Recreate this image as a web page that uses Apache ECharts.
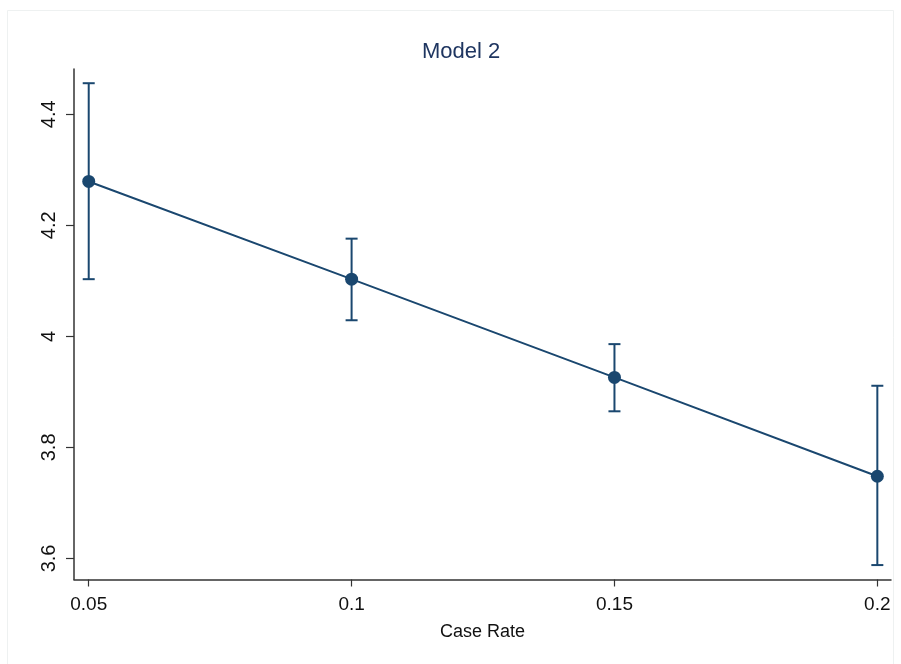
<!DOCTYPE html>
<html><head><meta charset="utf-8">
<script src="https://cdn.jsdelivr.net/npm/echarts@6/dist/echarts.min.js"></script>
<style>html,body{margin:0;padding:0;background:#fff}#c{width:901px;height:664px}</style>
</head><body><div id="c"></div>
<script>
const caseRate = [0.05, 0.1, 0.15, 0.2];
const estimate = [4.279, 4.103, 3.926, 3.748];
const upperCI = [4.456, 4.176, 3.986, 3.911];
const lowerCI = [4.103, 4.029, 3.865, 3.588];
const xTicks = [0.05, 0.1, 0.15, 0.2];
const yTicks = [3.6, 3.8, 4, 4.2, 4.4];
const titleText = 'Model 2';
const xTitle = 'Case Rate';

const navy = '#1a476f';
const font = 'Liberation Sans, Arial, Helvetica, sans-serif';
const chart = echarts.init(document.getElementById('c'), null, {renderer: 'canvas'});
const lineData = caseRate.map((x, i) => [x, estimate[i]]);
const errData = caseRate.map((x, i) => [x, lowerCI[i], upperCI[i]]);
const fmt = v => String(+v.toFixed(2));
chart.setOption({
  animation: false,
  backgroundColor: '#fff',
  graphic: [{type: 'rect', shape: {x: 7.5, y: 10.5, width: 886, height: 700}, style: {fill: 'none', stroke: '#eef1f1', lineWidth: 1}, silent: true}],
  title: {text: titleText, left: 417, top: 36,
    textStyle: {color: '#1e3560', fontSize: 22, fontWeight: 'normal', fontFamily: font}},
  grid: {left: 74, top: 69, width: 817, height: 510.5},
  xAxis: {
    type: 'value', min: 0.0472, max: 0.2026,
    name: xTitle, nameLocation: 'middle', nameGap: 44,
    nameTextStyle: {color: '#111', fontSize: 18, fontFamily: font},
    axisLine: {show: true, onZero: false, lineStyle: {color: '#333', width: 1.5}},
    axisTick: {show: true, length: 7, customValues: xTicks, lineStyle: {color: '#333', width: 1.2}},
    axisLabel: {customValues: xTicks, formatter: fmt, margin: 16, color: '#111', fontSize: 19, fontFamily: font},
    splitLine: {show: false}
  },
  yAxis: {
    type: 'value', min: 3.562, max: 4.4816,
    axisLine: {show: true, onZero: false, lineStyle: {color: '#333', width: 1.5}},
    axisTick: {show: true, length: 8, customValues: yTicks, lineStyle: {color: '#333', width: 1.2}},
    axisLabel: {customValues: yTicks, formatter: fmt, rotate: 90, margin: 15, color: '#111', fontSize: 20, fontFamily: font},
    splitLine: {show: false}
  },
  series: [
    {
      type: 'custom', data: errData, z: 2,
      renderItem: function (params, api) {
        const x = api.value(0);
        const lo = api.coord([x, api.value(1)]);
        const hi = api.coord([x, api.value(2)]);
        const hw = 6;
        const st = {stroke: navy, lineWidth: 2};
        return {type: 'group', children: [
          {type: 'line', shape: {x1: lo[0], y1: lo[1], x2: hi[0], y2: hi[1]}, style: st},
          {type: 'line', shape: {x1: lo[0] - hw, y1: lo[1], x2: lo[0] + hw, y2: lo[1]}, style: st},
          {type: 'line', shape: {x1: hi[0] - hw, y1: hi[1], x2: hi[0] + hw, y2: hi[1]}, style: st}
        ]};
      }
    },
    {
      type: 'line', data: lineData, z: 3,
      symbol: 'circle', symbolSize: 13,
      lineStyle: {color: navy, width: 2},
      itemStyle: {color: navy}
    }
  ]
});
</script></body></html>
